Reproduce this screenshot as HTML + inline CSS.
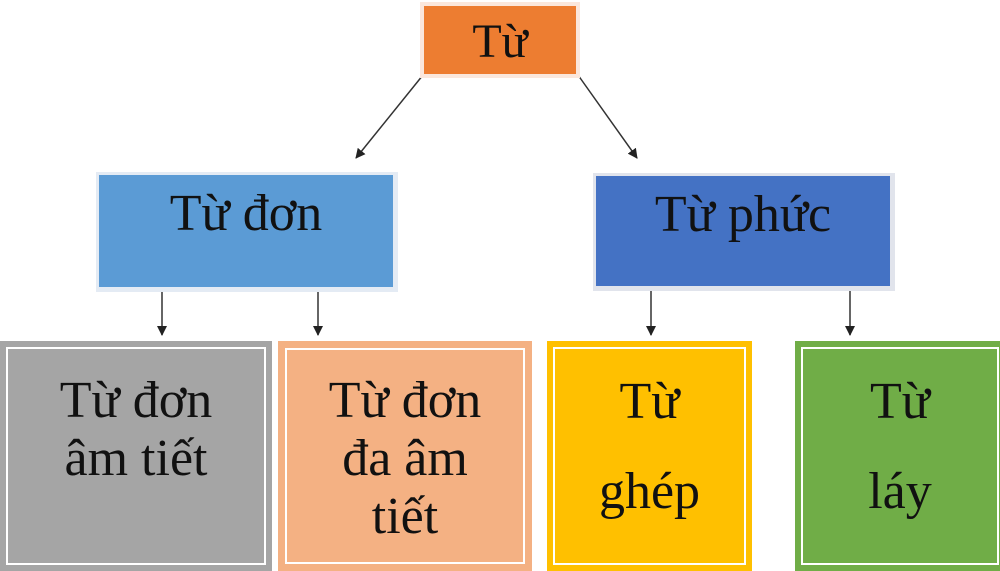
<!DOCTYPE html>
<html><head><meta charset="utf-8"><style>
body{margin:0;width:1000px;height:566px;background:#fff;position:relative;overflow:hidden;font-family:"Liberation Serif",serif;color:#111}
.b{position:absolute;box-sizing:border-box;text-align:center}
.t{position:absolute;left:0;right:0;text-align:center;line-height:1;white-space:nowrap}
</style></head><body>
<svg width="1000" height="566" style="position:absolute;left:0;top:0">
<defs><marker id="a" markerWidth="10" markerHeight="10" refX="9" refY="5" orient="auto" markerUnits="userSpaceOnUse"><path d="M0,0 L10,5 L0,10 z" fill="#222"/></marker></defs>
<g stroke="#333" stroke-width="1.5" fill="none" marker-end="url(#a)">
<line x1="423" y1="75" x2="356" y2="158"/>
<line x1="578" y1="75" x2="637" y2="158"/>
<line x1="162" y1="290" x2="162" y2="335"/>
<line x1="318" y1="290" x2="318" y2="335"/>
<line x1="651" y1="290" x2="651" y2="335"/>
<line x1="850" y1="290" x2="850" y2="335"/>
</g></svg>
<div class="b" style="left:420px;top:2px;width:160px;height:76px;background:#fbe7dc;padding:4px"><div style="background:#ed7d31;width:100%;height:100%;position:relative"><div class="t" style="top:12px;font-size:48px">Từ</div></div></div>
<div class="b" style="left:96px;top:172px;width:302px;height:120px;background:#e4ebf4;padding:3px 5px 5px 3px"><div style="background:#5b9bd5;width:100%;height:100%;position:relative"><div class="t" style="top:13px;font-size:52px">Từ đơn</div></div></div>
<div class="b" style="left:593px;top:173px;width:302px;height:118px;background:#e1e4ec;padding:3px 5px 5px 3px"><div style="background:#4472c4;width:100%;height:100%;position:relative"><div class="t" style="top:13px;font-size:52px">Từ phức</div></div></div>
<div class="b" style="left:0;top:341px;width:272px;height:230px;background:#a5a5a5;border:6px solid #a5a5a5"><div style="border:2px solid #fff;height:100%;box-sizing:border-box;position:relative"><div class="t" style="top:23px;font-size:52px;line-height:58px">Từ đơn<br>âm tiết</div></div></div>
<div class="b" style="left:278px;top:341px;width:254px;height:230px;background:#f4b183;border:7px solid #f4b183"><div style="border:2px solid #fff;height:100%;box-sizing:border-box;position:relative"><div class="t" style="top:22px;font-size:52px;line-height:58px">Từ đơn<br>đa âm<br>tiết</div></div></div>
<div class="b" style="left:547px;top:341px;width:205px;height:230px;background:#ffc000;border:6px solid #ffc000"><div style="border:2px solid #fff;height:100%;box-sizing:border-box;position:relative"><div class="t" style="top:8px;font-size:52px;line-height:90px">Từ<br>ghép</div></div></div>
<div class="b" style="left:795px;top:341px;width:210px;height:230px;background:#70ad47;border:6px solid #70ad47"><div style="border:2px solid #fff;height:100%;box-sizing:border-box;position:relative"><div class="t" style="top:8px;font-size:52px;line-height:90px">Từ<br>láy</div></div></div>
</body></html>
